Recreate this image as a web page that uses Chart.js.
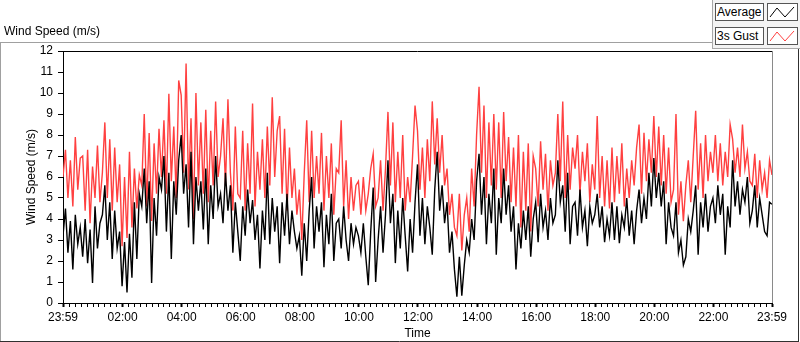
<!DOCTYPE html>
<html>
<head>
<meta charset="utf-8">
<script src="https://cdn.jsdelivr.net/npm/chart.js@4.4.1/dist/chart.umd.min.js"></script>
<style>
    body { margin: 0; background: #fff; }
    #wrap { position: relative; width: 800px; height: 342px; background: #fff; font-family: "Liberation Sans", Arial, sans-serif; font-size: 12px; color: #000; }
    #windChart { position: absolute; left: 0; top: 0; }
    .plotTitle { position: absolute; left: 4px; top: 24px; }
    .legendPanel { position: absolute; left: 712px; top: 0; width: 88px; height: 48px; background: #f3f3f3; border-left: 1px solid #a8a8a8; border-bottom: 1px solid #a8a8a8; }
    .legendName { position: absolute; left: 715px; width: 46px; height: 16px; line-height: 16px; padding-left: 1px; background: #fff; border: 1px solid #555; white-space: nowrap; }
    .legendIcon { position: absolute; left: 767px; width: 29px; height: 16px; background: #fff; border: 1px solid #555; }
</style>
</head>
<body>
<div id="wrap">
    <canvas id="windChart" width="800" height="342"></canvas>
    <div class="plotTitle">Wind Speed (m/s)</div>
    <div class="legendPanel"></div>
    <div class="legendName" style="top:3px">Average</div>
    <div class="legendIcon" style="top:3px">
        <svg width="29" height="16"><polyline points="2,13 9,4 17,13 26,3" fill="none" stroke="#000" stroke-width="1"/></svg>
    </div>
    <div class="legendName" style="top:27px">3s Gust</div>
    <div class="legendIcon" style="top:27px">
        <svg width="29" height="16"><polyline points="2,13 9,4 17,13 26,3" fill="none" stroke="#ff4040" stroke-width="1"/></svg>
    </div>
</div>
<script>
// Samples every 5 minutes, starting 23:59 (minute 0) and ending 23:59 next day (minute 1440)
const sampleStep = 5;

// Average wind speed (m/s)
const avgSpeed = [
    3.2, 4.5, 2.4, 3.9, 1.6, 4.2, 2.8, 3.6,
    2.2, 4.0, 1.9, 3.5, 0.95, 4.6, 2.6, 3.8,
    4.2, 5.6, 3.0, 4.8, 2.1, 4.4, 2.6, 3.4,
    0.8, 2.9, 0.5, 3.3, 1.2, 4.8, 2.1, 5.2,
    4.6, 6.4, 3.8, 5.8, 0.95, 5.0, 3.2, 6.0,
    5.4, 7.0, 3.4, 6.2, 2.1, 5.8, 4.2, 6.8,
    8.0, 5.2, 6.6, 3.6, 7.2, 2.8, 6.0, 4.4,
    5.8, 3.5, 6.4, 2.8, 5.6, 4.0, 7.0, 4.6,
    5.2, 3.8, 6.2, 4.4, 5.6, 2.4, 4.8, 3.4,
    2.0, 4.6, 3.2, 5.4, 3.8, 4.9, 3.0, 4.2,
    1.65, 4.4, 3.0, 6.2, 2.8, 5.0, 3.4, 4.6,
    1.9, 4.8, 3.2, 5.2, 2.8, 4.4, 3.4, 2.6,
    3.2, 1.3, 3.8, 2.0, 4.4, 6.0, 2.6, 4.6,
    3.4, 4.8, 1.7, 4.2, 2.8, 5.2, 2.0, 3.8,
    4.0, 2.6, 4.6, 3.0, 2.0, 3.8, 2.8, 3.6,
    3.2, 2.4, 3.8, 2.2, 0.85, 3.4, 5.5, 1.0,
    3.0, 4.6, 2.4, 4.2, 6.8, 3.8, 5.2, 1.9,
    4.4, 2.6, 5.0, 3.2, 1.5, 4.0, 2.4, 4.8,
    6.6, 3.2, 5.0, 2.8, 4.6, 3.6, 2.3, 5.4,
    7.2, 4.4, 5.6, 3.8, 4.8, 2.4, 3.4, 1.6,
    0.3, 2.2, 0.35, 1.8, 3.0, 2.4, 4.0, 3.0,
    5.8, 7.1, 4.2, 6.0, 2.8, 5.2, 3.8, 6.4,
    2.3, 5.0, 3.8, 6.4, 4.2, 5.6, 3.4, 4.6,
    1.6, 3.8, 2.6, 4.4, 3.0, 4.6, 2.2, 4.0,
    4.8, 2.9, 5.2, 3.6, 4.4, 3.0, 5.0, 3.8,
    4.2, 6.8, 4.8, 5.6, 3.4, 6.2, 2.8, 4.6,
    4.8, 3.2, 5.4, 3.6, 4.4, 2.7, 4.6, 3.8,
    4.2, 5.2, 3.6, 4.6, 2.9, 4.0, 3.2, 4.8,
    3.0, 4.6, 2.85, 4.2, 3.6, 5.0, 3.2, 4.4,
    2.8, 4.4, 5.4, 3.8, 5.0, 4.0, 6.2, 4.6,
    6.9, 5.0, 6.2, 4.6, 5.8, 2.8, 4.8, 3.6,
    3.2, 4.8, 2.4, 3.0, 1.8, 2.2, 4.0, 3.4,
    4.4, 5.6, 2.3, 4.8, 3.6, 5.2, 3.4, 4.6,
    5.0, 3.8, 5.6, 4.2, 5.2, 2.3, 4.6, 3.6,
    6.8, 4.6, 5.8, 4.2, 5.4, 4.8, 6.0, 3.8,
    4.4, 5.6, 3.6, 5.0, 4.2, 3.4, 3.2, 4.8,
    4.7
];

// 3 second gust (m/s)
const gustSpeed = [
    6.0, 7.3, 5.0, 6.8, 4.6, 7.9, 5.4, 6.9,
    7.0, 4.4, 7.3, 3.8, 6.5, 5.0, 7.5, 4.8,
    6.2, 8.6, 5.0, 7.8, 4.4, 7.4, 4.8, 6.6,
    2.7, 6.0, 3.1, 7.2, 3.6, 6.4, 4.5, 6.1,
    5.6, 9.0, 4.6, 8.1, 3.9, 7.6, 5.2, 8.3,
    6.0, 8.7, 5.2, 9.96, 5.8, 8.4, 5.0, 10.6,
    9.9, 6.2, 11.4, 5.4, 8.8, 4.0, 10.0, 5.6,
    8.6, 5.2, 9.2, 4.8, 8.2, 5.6, 9.6, 6.0,
    7.0, 8.8, 5.6, 9.7, 6.2, 4.4, 8.4, 5.2,
    5.0, 8.2, 4.4, 7.6, 5.2, 9.5, 4.6, 7.2,
    5.4, 7.8, 5.0, 8.4, 5.6, 9.8, 6.0, 8.2,
    8.9, 5.2, 8.3, 4.4, 7.4, 5.0, 6.4, 4.2,
    5.4, 3.0, 6.2, 8.7, 4.8, 8.2, 5.0, 7.0,
    5.2, 8.1, 4.4, 7.0, 5.0, 7.6, 4.2, 6.4,
    6.2, 8.7, 4.6, 6.8, 4.0, 6.0, 4.4, 5.6,
    5.8, 4.2, 6.0, 4.4, 5.2, 6.4, 7.1, 4.6,
    5.0, 6.8, 4.4, 6.4, 9.1, 5.6, 8.6, 4.8,
    7.2, 5.0, 8.0, 4.4, 6.0, 4.8, 7.0, 9.4,
    8.2, 5.4, 7.4, 5.0, 7.8, 5.8, 9.6, 6.6,
    8.8, 6.2, 8.0, 5.6, 6.4, 4.2, 5.2, 3.6,
    3.2, 5.2, 2.5, 4.2, 5.0, 3.4, 6.4, 4.6,
    8.0, 10.3, 6.2, 9.4, 5.0, 8.6, 5.6, 9.0,
    5.4, 8.6, 5.0, 9.1, 5.8, 7.9, 4.8, 7.4,
    4.6, 8.0, 3.6, 7.2, 4.4, 7.6, 3.4, 7.0,
    6.4, 4.6, 7.7, 5.4, 7.1, 4.4, 6.8, 5.6,
    6.2, 9.0, 5.8, 9.6, 5.0, 8.0, 5.4, 7.4,
    6.4, 8.0, 5.2, 7.2, 5.8, 7.6, 4.8, 6.6,
    5.4, 8.9, 5.0, 7.0, 4.6, 6.8, 4.5, 7.4,
    4.8, 7.0, 5.2, 7.6, 4.6, 6.4, 5.0, 6.8,
    5.6, 7.4, 8.5, 5.2, 8.1, 5.8, 7.8, 6.2,
    8.9, 6.0, 8.4, 5.6, 8.0, 5.2, 7.4, 4.8,
    5.4, 9.0, 4.2, 5.8, 3.9, 5.6, 6.8, 4.8,
    7.0, 9.15, 5.4, 7.6, 5.0, 8.0, 5.8, 7.2,
    6.2, 8.0, 5.8, 7.6, 5.6, 7.2, 6.0, 8.5,
    7.8, 6.2, 7.4, 6.0, 8.5, 6.4, 7.2, 5.8,
    5.6, 7.1, 5.0, 6.8, 5.4, 6.2, 5.0, 6.8,
    6.1
];

// Time axis tick labels (minutes after 23:59)
const majorTickMinutes = [0, 121, 241, 361, 481, 601, 721, 841, 961, 1081, 1201, 1321, 1440];
const timeLabels = ['23:59', '02:00', '04:00', '06:00', '08:00', '10:00', '12:00', '14:00', '16:00', '18:00', '20:00', '22:00', '23:59'];
const minorTickStep = 12;

const yTicks = [0, 12];

const FONT = { family: '"Liberation Sans", Arial, sans-serif', size: 12 };

function toPoints(values) {
    return values.map((v, i) => ({ x: i * sampleStep, y: v }));
}

// frame lines around the plot like the original front panel
const framePlugin = {
    id: 'frame',
    afterDraw(chart) {
        const ctx = chart.ctx;
        const a = chart.chartArea;
        ctx.save();
        ctx.lineWidth = 1;
        // outer frame
        ctx.strokeStyle = '#a0a0a0';
        ctx.beginPath();
        ctx.moveTo(0, 42.5); ctx.lineTo(712, 42.5);
        ctx.moveTo(0.5, 42); ctx.lineTo(0.5, 341);
        ctx.stroke();
        ctx.strokeStyle = '#303030';
        ctx.beginPath();
        ctx.moveTo(0, 341.5); ctx.lineTo(799, 341.5);
        ctx.moveTo(798.5, 42); ctx.lineTo(798.5, 342);
        ctx.stroke();
        // plot box top and right
        ctx.strokeStyle = '#000';
        ctx.beginPath();
        ctx.moveTo(a.left, a.top + 0.5); ctx.lineTo(a.right, a.top + 0.5);
        ctx.stroke();
        ctx.strokeStyle = '#8a8a8a';
        ctx.beginPath();
        ctx.moveTo(a.right + 0.5, a.top); ctx.lineTo(a.right + 0.5, a.bottom);
        ctx.stroke();
        ctx.restore();
    }
};

const chart = new Chart(document.getElementById('windChart').getContext('2d'), {
    type: 'line',
    data: {
        datasets: [{
            label: 'Average',
            data: toPoints(avgSpeed),
            borderColor: '#000000',
            borderWidth: 1.4,
            pointRadius: 0,
            tension: 0,
            fill: false
        }, {
            label: '3s Gust',
            data: toPoints(gustSpeed),
            borderColor: '#ff4040',
            borderWidth: 1.4,
            pointRadius: 0,
            tension: 0,
            fill: false
        }]
    },
    options: {
        responsive: false,
        animation: false,
        layout: { padding: { top: 51, right: 28, left: 0, bottom: 0 } },
        plugins: {
            legend: { display: false },
            tooltip: { enabled: false }
        },
        scales: {
            x: {
                type: 'linear',
                min: 0,
                max: 1440,
                afterBuildTicks(scale) {
                    const ticks = [{ value: 0 }];
                    for (let m = 1 + minorTickStep; m < 1440; m += minorTickStep) {
                        ticks.push({ value: m });
                    }
                    ticks.push({ value: 1440 });
                    scale.ticks = ticks;
                },
                afterFit(scale) { scale.height = 39; },
                ticks: {
                    autoSkip: false,
                    maxRotation: 0,
                    padding: 3,
                    color: '#000',
                    font: FONT,
                    callback(value) {
                        const i = majorTickMinutes.indexOf(value);
                        return i >= 0 ? timeLabels[i] : '';
                    }
                },
                grid: {
                    drawOnChartArea: false,
                    drawTicks: true,
                    tickLength: 4,
                    tickColor: '#000',
                    tickWidth: (c) => (c.tick && majorTickMinutes.includes(c.tick.value)) ? 2 : 1
                },
                border: { color: '#000', width: 1 },
                title: { display: true, text: 'Time', color: '#000', font: FONT, padding: { top: 0, bottom: 1 } }
            },
            y: {
                min: yTicks[0],
                max: yTicks[1],
                afterFit(scale) { scale.width = 63; },
                ticks: { stepSize: 1, padding: 5, color: '#000', font: FONT },
                grid: { drawOnChartArea: false, drawTicks: true, tickLength: 5, tickColor: '#000' },
                border: { color: '#000', width: 1 },
                title: { display: true, text: 'Wind Speed (m/s)', color: '#000', font: FONT, padding: { top: 24, bottom: 0 } }
            }
        }
    },
    plugins: [framePlugin]
});
</script>
</body>
</html>
